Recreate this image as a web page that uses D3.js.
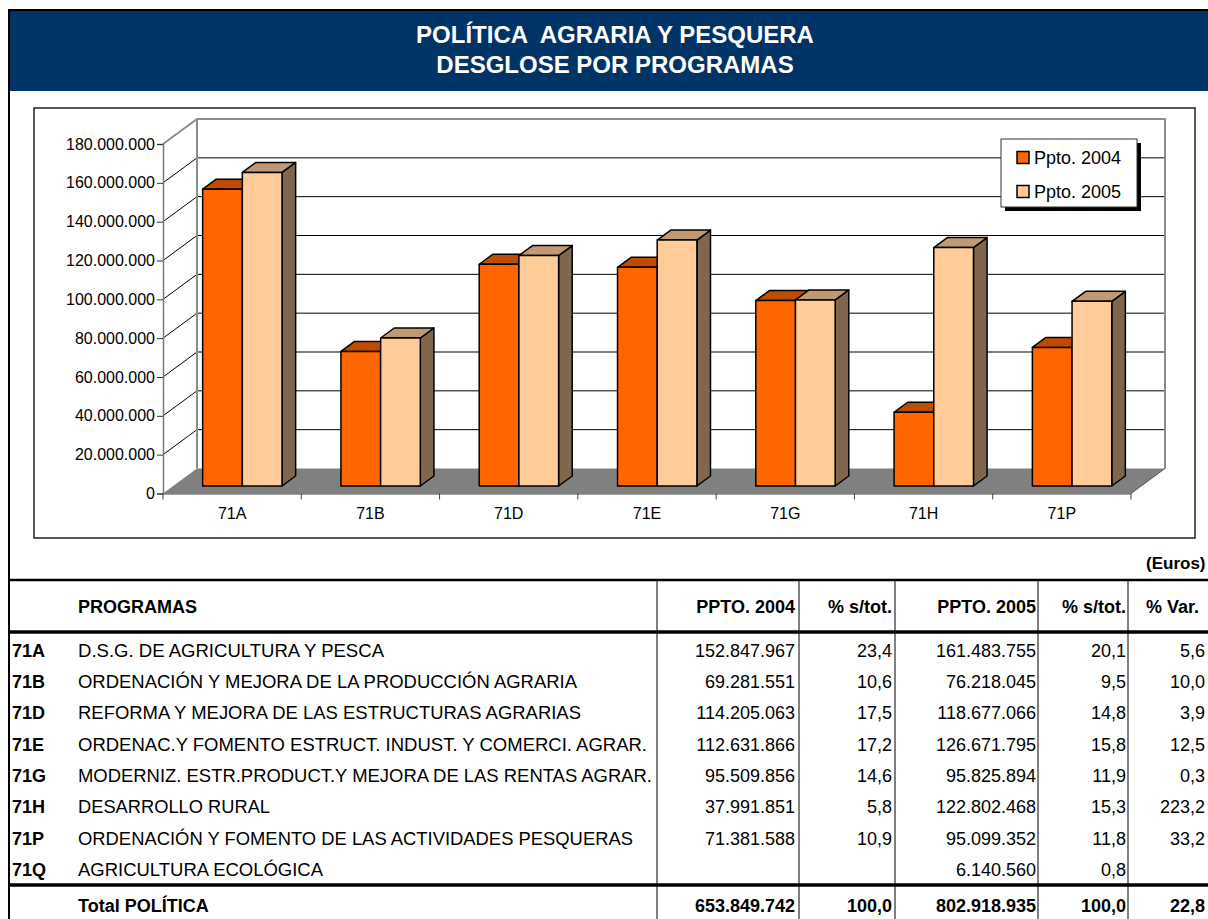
<!DOCTYPE html>
<html><head><meta charset="utf-8">
<script src="https://cdn.jsdelivr.net/npm/d3@7"></script>
<style>
body{margin:0;background:#fff;overflow:hidden}
svg{display:block}
text{font-family:"Liberation Sans",Arial,Helvetica,sans-serif}
</style>
</head><body>
<script>
// ---------- DATA ----------
const categories = ["71A","71B","71D","71E","71G","71H","71P"];
const seriesNames = ["Ppto. 2004","Ppto. 2005"];
const ppto2004 = [152847967,69281551,114205063,112631866,95509856,37991851,71381588];
const ppto2005 = [161483755,76218045,118677066,126671795,95825894,122802468,95099352];
const yTicks = [0,20000000,40000000,60000000,80000000,100000000,120000000,140000000,160000000,180000000];
const titleLines = ["POLÍTICA  AGRARIA Y PESQUERA","DESGLOSE POR PROGRAMAS"];
const unitsLabel = "(Euros)";
const tableHeaders = ["PROGRAMAS","PPTO. 2004","% s/tot.","PPTO. 2005","% s/tot.","% Var."];
const tableCodes = ["71A","71B","71D","71E","71G","71H","71P","71Q"];
const tableNames = [
  "D.S.G. DE AGRICULTURA Y PESCA",
  "ORDENACIÓN Y MEJORA DE LA PRODUCCIÓN AGRARIA",
  "REFORMA Y MEJORA DE LAS ESTRUCTURAS AGRARIAS",
  "ORDENAC.Y FOMENTO ESTRUCT. INDUST. Y COMERCI. AGRAR.",
  "MODERNIZ. ESTR.PRODUCT.Y MEJORA DE LAS RENTAS AGRAR.",
  "DESARROLLO RURAL",
  "ORDENACIÓN Y FOMENTO DE LAS ACTIVIDADES PESQUERAS",
  "AGRICULTURA ECOLÓGICA"
];
const tablePpto2004 = [152847967,69281551,114205063,112631866,95509856,37991851,71381588,null];
const tablePct2004  = [23.4,10.6,17.5,17.2,14.6,5.8,10.9,null];
const tablePpto2005 = [161483755,76218045,118677066,126671795,95825894,122802468,95099352,6140560];
const tablePct2005  = [20.1,9.5,14.8,15.8,11.9,15.3,11.8,0.8];
const tableVar      = [5.6,10.0,3.9,12.5,0.3,223.2,33.2,null];
const totalLabel = "Total POLÍTICA";
const totalValues = [653849742,100.0,802918935,100.0,22.8];

// ---------- LAYOUT ----------
const W = 1208, H = 919;
const FONT = '"Liberation Sans",Arial,Helvetica,sans-serif';
const loc = d3.formatLocale({decimal:",", thousands:".", grouping:[3], currency:["",""]});
const fInt = loc.format(",.0f");
const fPct = loc.format(",.1f");

const svg = d3.select("body").append("svg").attr("width",W).attr("height",H);

// outer frame + title band
svg.append("rect").attr("x",9).attr("y",10).attr("width",1210).attr("height",1000)
  .attr("fill","#fff").attr("stroke","#000").attr("stroke-width",2);
svg.append("rect").attr("x",10).attr("y",11).attr("width",1208).attr("height",80).attr("fill","#003366");
svg.selectAll("text.title").data(titleLines).join("text").attr("class","title")
  .attr("x",615).attr("y",(d,i)=>43+i*30).attr("text-anchor","middle")
  .attr("fill","#fff").attr("font-weight","bold").attr("font-size",24)
  .style("white-space","pre").attr("xml:space","preserve").text(d=>d);

// chart box
svg.append("rect").attr("x",34).attr("y",108).attr("width",1161).attr("height",430)
  .attr("fill","#fff").attr("stroke","#222").attr("stroke-width",1.5);

// 3D plot geometry
const X0 = 163, X1 = 1131, Y0 = 493.5, YTOP = 144;
const DX = 34, DY = 25;
const x = d3.scaleBand().domain(categories).range([X0,X1]).paddingInner(0).paddingOuter(0);
const xs = d3.scaleBand().domain(seriesNames).range([0,x.bandwidth()]).paddingInner(0).paddingOuter(0.742);
const y = d3.scaleLinear().domain([0,180000000]).range([Y0,YTOP]);
const P = (px,v,z)=>[px+z*DX, y(v)-z*DY];
const pts = a=>a.map(p=>p.join(",")).join(" ");

const g = svg.append("g");
// back wall
g.append("rect").attr("x",X0+DX).attr("y",YTOP-DY).attr("width",X1-X0).attr("height",Y0-YTOP)
  .attr("fill","#fff").attr("stroke","none");
// gridlines back wall + left wall
yTicks.filter(t=>t>0 && t<180000000).forEach(t=>{
  const a=P(X0,t,0), b=P(X0,t,1), c=P(X1,t,1);
  g.append("polyline").attr("points",pts([a,b,c])).attr("fill","none").attr("stroke","#000").attr("stroke-width",1);
});
// wall borders (gray)
g.append("polyline").attr("points",pts([P(X0,180000000,0),P(X0,180000000,1),P(X1,180000000,1),P(X1,0,1)]))
  .attr("fill","none").attr("stroke","#8c8c8c").attr("stroke-width",2);
g.append("line").attr("x1",X0+DX).attr("x2",X0+DX).attr("y1",YTOP-DY).attr("y2",Y0-DY)
  .attr("stroke","#8c8c8c").attr("stroke-width",2);
// floor
g.append("polygon").attr("points",pts([P(X0,0,0),P(X1,0,0),P(X1,0,1),P(X0,0,1)]))
  .attr("fill","#808080").attr("stroke","none");
g.append("line").attr("x1",X1).attr("y1",Y0).attr("x2",X1+DX).attr("y2",Y0-DY).attr("stroke","#555").attr("stroke-width",1);

// y axis
const yAxis = d3.axisLeft(y).tickValues(yTicks).tickSize(6).tickPadding(2).tickFormat(fInt);
const ya = svg.append("g").attr("transform",`translate(${X0},0)`).call(yAxis);
ya.select(".domain").attr("stroke","#777").attr("stroke-width",1.5);
ya.selectAll(".tick line").attr("stroke","#333");
ya.selectAll(".tick text").attr("font-family",FONT).attr("font-size",16).attr("fill","#000");

// x axis
const xAxis = d3.axisBottom(x).tickSize(0).tickPadding(14);
const xa = svg.append("g").attr("transform",`translate(0,${Y0})`).call(xAxis);
xa.select(".domain").attr("stroke","#444").attr("stroke-width",1.2);
xa.selectAll(".tick text").attr("font-family",FONT).attr("font-size",16).attr("fill","#000");
const bounds = categories.map(c=>x(c)).concat([X1]);
xa.selectAll("line.bnd").data(bounds).join("line").attr("class","bnd")
  .attr("x1",d=>d).attr("x2",d=>d).attr("y1",0).attr("y2",6).attr("stroke","#444");

// bars
const frontCol = ["#FF6600","#FFCC99"];
const topCol   = ["#BF4C00","#BF9973"];
const sideCol  = ["#803300","#80664D"];
const zf = 0.3, zb = 0.7;
const bars = [];
categories.forEach((c,i)=>{
  [ppto2004[i],ppto2005[i]].forEach((v,s)=>bars.push({c,s,v}));
});
const bg = svg.append("g").attr("stroke","#000").attr("stroke-width",1.5).attr("stroke-linejoin","round");
bars.forEach(b=>{
  const x0 = x(b.c)+xs(seriesNames[b.s]), x1 = x0+xs.bandwidth();
  bg.append("polygon").attr("points",pts([P(x1,b.v,zf),P(x1,b.v,zb),P(x1,0,zb),P(x1,0,zf)])).attr("fill",sideCol[b.s]);
  bg.append("polygon").attr("points",pts([P(x0,b.v,zf),P(x1,b.v,zf),P(x1,b.v,zb),P(x0,b.v,zb)])).attr("fill",topCol[b.s]);
  bg.append("polygon").attr("points",pts([P(x0,b.v,zf),P(x1,b.v,zf),P(x1,0,zf),P(x0,0,zf)])).attr("fill",frontCol[b.s]);
});

// legend
const lg = svg.append("g");
lg.append("rect").attr("x",1005).attr("y",143).attr("width",136).attr("height",68).attr("fill","#000");
lg.append("rect").attr("x",1001).attr("y",139).attr("width",136).attr("height",68).attr("fill","#fff").attr("stroke","#333").attr("stroke-width",1);
seriesNames.forEach((n,i)=>{
  lg.append("rect").attr("x",1017).attr("y",151.5+i*34).attr("width",12).attr("height",12)
    .attr("fill",frontCol[i]).attr("stroke","#000").attr("stroke-width",1.5);
  lg.append("text").attr("x",1034).attr("y",163.5+i*34).attr("font-size",18).attr("fill","#000").text(n);
});

// ---------- TABLE ----------
const tg = svg.append("g");
tg.append("text").attr("x",1146).attr("y",569).attr("font-size",17).attr("font-weight","bold").text(unitsLabel);
const colRight = [795,892,1036,1126,1205];
const vLines = [657,799,895,1038,1128];
vLines.forEach(vx=>tg.append("line").attr("x1",vx).attr("x2",vx).attr("y1",580).attr("y2",H+5).attr("stroke","#000").attr("stroke-width",1));
[[580,2.5],[632,3.5],[885,3.5]].forEach(([ly,sw])=>tg.append("line").attr("x1",9).attr("x2",W+20).attr("y1",ly).attr("y2",ly).attr("stroke","#000").attr("stroke-width",sw));

// header
tg.append("text").attr("x",78).attr("y",613).attr("font-size",18).attr("font-weight","bold").text(tableHeaders[0]);
tableHeaders.slice(1).forEach((h,i)=>{
  const t = tg.append("text").attr("y",613).attr("font-size",18).attr("font-weight","bold").text(h);
  if(i<4) t.attr("x",colRight[i]).attr("text-anchor","end"); else t.attr("x",1146);
});
// rows
const nameEnd = [384,577,581,647,652,270,633,323];
const rowY = i=>656.5+i*31.35;
tableCodes.forEach((c,i)=>{
  const yy = rowY(i);
  tg.append("text").attr("x",12).attr("y",yy).attr("font-size",18).attr("font-weight","bold").text(c);
  tg.append("text").attr("x",78).attr("y",yy).attr("font-size",18)
    .attr("textLength",nameEnd[i]-78).attr("lengthAdjust","spacingAndGlyphs").text(tableNames[i]);
  const cells = [
    tablePpto2004[i]==null?"":fInt(tablePpto2004[i]),
    tablePct2004[i]==null?"":fPct(tablePct2004[i]),
    fInt(tablePpto2005[i]),
    fPct(tablePct2005[i]),
    tableVar[i]==null?"":fPct(tableVar[i])
  ];
  cells.forEach((s,j)=>tg.append("text").attr("x",colRight[j]).attr("y",yy).attr("text-anchor","end").attr("font-size",18).text(s));
});
// total
const ty = 911.5;
tg.append("text").attr("x",78).attr("y",ty).attr("font-size",18).attr("font-weight","bold").text(totalLabel);
[fInt(totalValues[0]),fPct(totalValues[1]),fInt(totalValues[2]),fPct(totalValues[3]),fPct(totalValues[4])]
  .forEach((s,j)=>tg.append("text").attr("x",colRight[j]).attr("y",ty).attr("text-anchor","end").attr("font-size",18).attr("font-weight","bold").text(s));
</script>
</body></html>
